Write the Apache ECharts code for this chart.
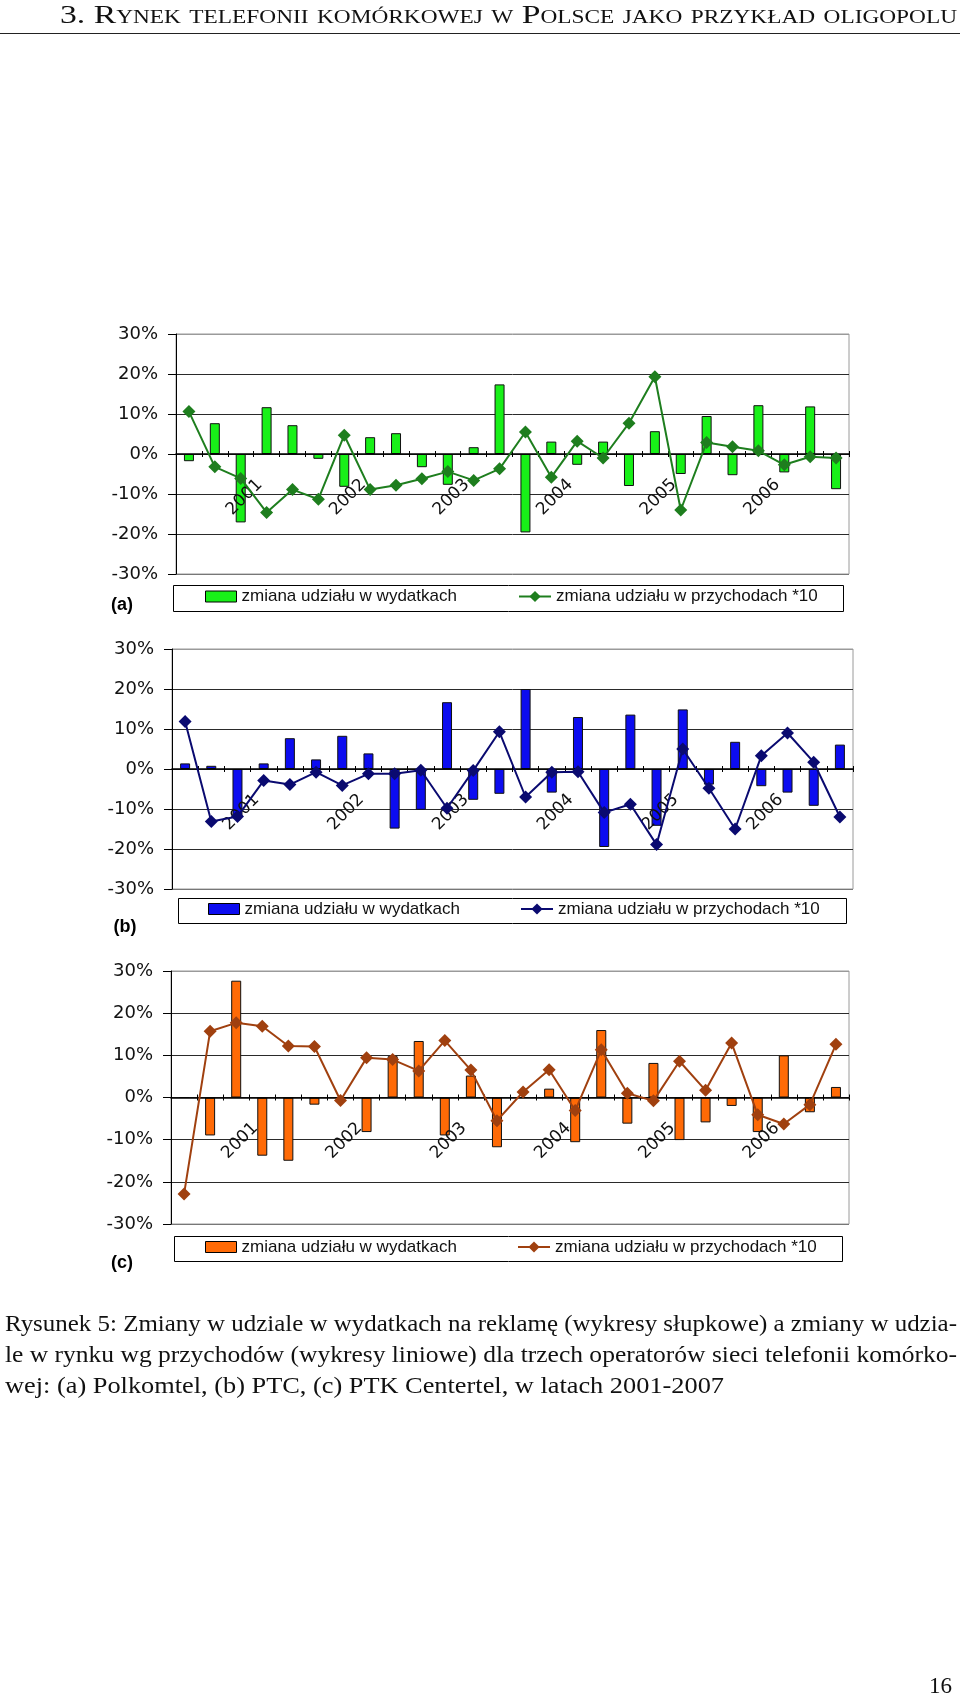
<!DOCTYPE html>
<html><head><meta charset="utf-8">
<script src="https://cdn.jsdelivr.net/npm/echarts@6/dist/echarts.min.js"></script>
<style>
html,body{margin:0;padding:0;background:#fff;}
#page{position:relative;width:960px;height:1698px;overflow:hidden;}
#chart{position:absolute;left:0;top:0;width:960px;height:1698px;}
#txt{position:absolute;left:0;top:0;pointer-events:none;}
#txt text{font-family:"Liberation Serif","DejaVu Serif",serif;fill:#111;}
</style></head><body>
<div id="page">
<div id="chart"></div>
<svg id="txt" width="960" height="1698">
  <text x="60" y="23" font-size="26" textLength="897" lengthAdjust="spacingAndGlyphs" style="font-variant:small-caps">3. Rynek telefonii komórkowej w Polsce jako przykład oligopolu</text>
  <line x1="0" y1="33.5" x2="960" y2="33.5" stroke="#222" stroke-width="1"/>
  <text x="5" y="1331" font-size="23" textLength="952" lengthAdjust="spacingAndGlyphs">Rysunek 5: Zmiany w udziale w wydatkach na reklamę (wykresy słupkowe) a zmiany w udzia-</text>
  <text x="5" y="1362" font-size="23" textLength="952" lengthAdjust="spacingAndGlyphs">le w rynku wg przychodów (wykresy liniowe) dla trzech operatorów sieci telefonii komórko-</text>
  <text x="5" y="1393" font-size="23" textLength="719" lengthAdjust="spacingAndGlyphs">wej: (a) Polkomtel, (b) PTC, (c) PTK Centertel, w latach 2001-2007</text>
  <text x="952" y="1693" font-size="23" text-anchor="end">16</text>
</svg>
</div>
<script>
// ---------- data ----------
const quarters = ['II 2001','III 2001','IV 2001','I 2002','II 2002','III 2002','IV 2002','I 2003','II 2003','III 2003','IV 2003','I 2004','II 2004','III 2004','IV 2004','I 2005','II 2005','III 2005','IV 2005','I 2006','II 2006','III 2006','IV 2006','I 2007','II 2007','III 2007'];
const yearTickLabels = ['','','','2001','','','','2002','','','','2003','','','','2004','','','','2005','','','','2006','','',''];
const seriesNames = ['zmiana udziału w wydatkach', 'zmiana udziału w przychodach *10'];
const panelLabels = ['(a)', '(b)', '(c)'];

// (a) Polkomtel
const aSpend   = [-1.8, 7.7, -17.1, 11.7, 7.2, -1.2, -8.2, 4.2, 5.2, -3.3, -7.7, 1.7, 17.4, -19.6, 3.1, -2.7, 3.1, -8.0, 5.7, -5.0, 9.5, -5.3, 12.2, -4.6, 11.9, -8.8];
const aRevenue = [10.6, -3.2, -6.1, -14.6, -8.9, -11.3, 4.7, -8.9, -7.8, -6.2, -4.4, -6.6, -3.7, 5.5, -5.8, 3.2, -1.0, 7.7, 19.3, -14.0, 2.9, 1.8, 0.8, -2.7, -0.7, -1.0];
// (b) PTC
const bSpend   = [1.4, 0.8, -12.0, 1.4, 7.7, 2.4, 8.3, 3.9, -14.9, -10.2, 16.7, -7.7, -6.2, 20.0, -5.9, 13.0, -19.5, 13.6, -14.2, 14.9, -3.9, 6.8, -4.3, -5.9, -9.2, 6.1];
const bRevenue = [11.9, -13.1, -11.9, -2.9, -3.9, -0.8, -4.1, -1.2, -1.2, -0.3, -9.8, -0.4, 9.3, -7.0, -0.8, -0.7, -10.9, -8.8, -18.9, 5.0, -4.8, -15.0, 3.3, 9.0, 1.7, -12.0];
// (c) PTK Centertel
const cSpend   = [0, -9.0, 27.7, -13.8, -15.0, -1.7, 0, -8.2, 9.8, 13.4, -9.0, 5.2, -11.8, 0, 2.1, -10.6, 16.0, -6.2, 8.2, -10.1, -5.9, -2.0, -8.2, 10.0, -3.5, 2.5];
const cRevenue = [-22.9, 15.7, 17.7, 16.9, 12.2, 12.1, -0.7, 9.4, 9.0, 6.3, 13.5, 6.5, -5.5, 1.3, 6.6, -3.1, 11.3, 1.0, -0.8, 8.6, 1.7, 12.9, -4.1, -6.3, -1.7, 12.6];

const spendData = [aSpend, bSpend, cSpend];
const revenueData = [aRevenue, bRevenue, cRevenue];

// ---------- layout / style ----------
const panels = [
  {key:'a', grid:{left:176, top:334, width:673, height:240}, box:{x:173, y:585, w:670, h:26}, barLegX:205, lineLegX:518, lab:[122, 605], bar:'#18F018', line:'#1E7E1E'},
  {key:'b', grid:{left:172, top:649, width:681, height:240}, box:{x:178, y:898, w:668, h:25}, barLegX:208, lineLegX:520, lab:[125, 927], bar:'#0C0CF0', line:'#0A0A70'},
  {key:'c', grid:{left:171, top:971, width:678, height:253}, box:{x:174, y:1236, w:668, h:25}, barLegX:205, lineLegX:517, lab:[122, 1263], bar:'#FF6A06', line:'#A0400F'}
];

const grid = [], xAxis = [], yAxis = [], series = [], legend = [], graphic = [];
const stripName = n => n.replace(/ \[[abc]\]$/, '');

panels.forEach((p, gi) => {
  grid.push({left: p.grid.left, top: p.grid.top, width: p.grid.width, height: p.grid.height,
             show: true, borderColor: '#9a9a9a', borderWidth: 1, backgroundColor: 'transparent', containLabel: false});
  yAxis.push({
    gridIndex: gi, type: 'value', min: -30, max: 30, interval: 10,
    axisLine: {show: true, lineStyle: {color: '#000', width: 1}},
    axisTick: {show: true, length: 8, lineStyle: {color: '#000'}},
    axisLabel: {formatter: '{value}%', fontSize: 18, fontFamily: 'DejaVu Sans', color: '#111', margin: 18},
    splitLine: {show: true, lineStyle: {color: ['#777', '#2a2a2a', '#2a2a2a', '#2a2a2a', '#2a2a2a', '#2a2a2a', '#9a9a9a'], width: 1}}
  });
  xAxis.push({
    gridIndex: gi, type: 'category', data: quarters, boundaryGap: true, position: 'bottom',
    axisLine: {show: true, onZero: true, lineStyle: {color: '#000', width: 1.5}},
    axisTick: {show: true, length: 3, interval: 0, lineStyle: {color: '#000'}},
    axisLabel: {show: false}, splitLine: {show: false}, z: 2
  });
  // year labels sit on the tick marks between quarters, at the zero line (grid middle)
  xAxis.push({
    gridIndex: gi, type: 'category', data: yearTickLabels.map((_, i) => 'b' + i), boundaryGap: false, position: 'bottom',
    offset: -p.grid.height / 2,
    axisLine: {show: false, onZero: false},
    axisTick: {show: true, inside: true, length: 3, interval: 0, lineStyle: {color: '#000'}},
    axisLabel: {show: true, interval: 0, rotate: 45, margin: 22, verticalAlign: 'top',
                fontSize: 17, fontFamily: 'DejaVu Sans', color: '#111',
                formatter: (v, i) => yearTickLabels[i]},
    splitLine: {show: false}, z: 2
  });
  const barName = seriesNames[0] + ' [' + p.key + ']';
  const lineName = seriesNames[1] + ' [' + p.key + ']';
  series.push({
    name: barName, type: 'bar', xAxisIndex: 2 * gi, yAxisIndex: gi, data: spendData[gi], barWidth: 10,
    itemStyle: {color: p.bar, borderColor: '#111', borderWidth: 1}, z: 1, animation: false
  });
  series.push({
    name: lineName, type: 'line', xAxisIndex: 2 * gi, yAxisIndex: gi, data: revenueData[gi],
    symbol: 'diamond', symbolSize: [13, 13], showSymbol: true,
    lineStyle: {color: p.line, width: 2}, itemStyle: {color: p.line}, z: 3, animation: false
  });
  const cy = p.box.y + p.box.h / 2;
  legend.push({
    data: [{name: barName, icon: 'rect'}], left: p.barLegX, top: cy - 10, padding: 0, itemWidth: 31, itemHeight: 11, itemGap: 5,
    selectedMode: false, formatter: stripName,
    itemStyle: {borderColor: '#000', borderWidth: 1},
    textStyle: {fontSize: 17, fontFamily: 'Liberation Sans', color: '#111'}
  });
  legend.push({
    data: [lineName], left: p.lineLegX, top: cy - 10, padding: 0, itemWidth: 32, itemHeight: 14, itemGap: 5,
    selectedMode: false, formatter: stripName,
    textStyle: {fontSize: 17, fontFamily: 'Liberation Sans', color: '#111'}
  });
  graphic.push({type: 'rect', shape: {x: p.box.x + 0.5, y: p.box.y + 0.5, width: p.box.w, height: p.box.h},
                style: {fill: '#fff', stroke: '#000', lineWidth: 1}, z: 0});
  graphic.push({type: 'text', x: p.lab[0], y: p.lab[1],
                style: {text: panelLabels[gi], fontSize: 18, fontWeight: 'bold', fontFamily: 'Liberation Sans',
                        fill: '#000', align: 'center', verticalAlign: 'middle'}, z: 5});
});

const chart = echarts.init(document.getElementById('chart'), null, {renderer: 'canvas'});
chart.setOption({
  animation: false,
  backgroundColor: '#fff',
  grid, xAxis, yAxis, series, legend, graphic
});
</script>
</body></html>
